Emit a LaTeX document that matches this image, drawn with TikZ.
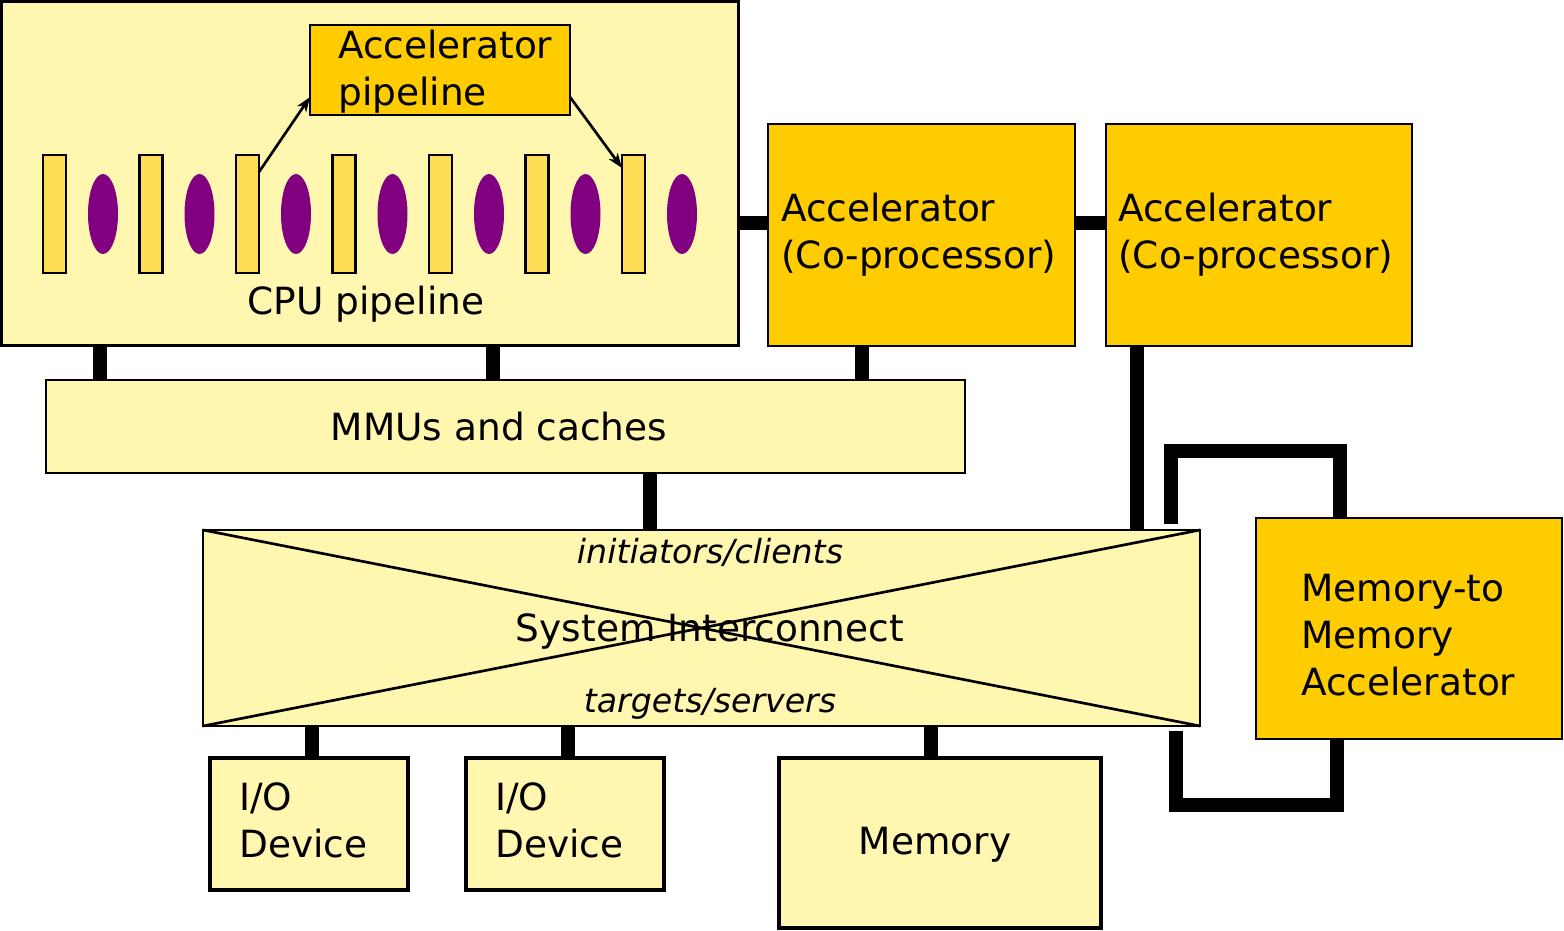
\documentclass[tikz,border=0pt]{standalone}
\usepackage{fontspec}
\setmainfont{DejaVu Sans}
\usetikzlibrary{calc,arrows.meta,shapes.geometric}
\definecolor{lightyel}{HTML}{FFF6B0}
\definecolor{gold}{HTML}{FFCC00}
\definecolor{stagecol}{HTML}{FFDD55}
\definecolor{latchcol}{HTML}{800080}
\tikzset{
  box/.style={draw=black, line width=2pt, inner sep=0pt, outer sep=0pt, anchor=north west},
  lbox/.style={box, fill=lightyel},
  gbox/.style={box, fill=gold},
  iobox/.style={box, fill=lightyel, line width=3.2pt},
  stagebox/.style={box, fill=stagecol, line width=2.2pt, minimum width=17.25pt, minimum height=88.5pt},
  latch/.style={ellipse, fill=latchcol, minimum width=22.5pt, minimum height=60pt, inner sep=0pt},
  txt/.style={font=\fontsize{28.1pt}{35.2pt}\selectfont, inner sep=0pt},
  itxt/.style={font=\fontsize{24.9pt}{30pt}\selectfont\itshape, inner sep=0pt},
  conn/.style={line width=11pt, line cap=butt, line join=miter},
  thinarrow/.style={line width=2pt, -{Stealth[length=11pt,width=8pt,inset=3pt]}}
}
\begin{document}
\begin{tikzpicture}[x=0.75pt,y=-0.75pt]
\useasboundingbox (0,0) rectangle (1564,931);
% CPU
\node[lbox, line width=2.3pt, minimum width=552.75pt, minimum height=258pt] (cpu) at (1.5,1.5) {};
\node[gbox, minimum width=195pt, minimum height=67.5pt] (accp) at (310,25) {};
\node[txt, anchor=base west] (accpt1) at (338,59) {Accelerator};
\node[txt, anchor=base west] (accpt2) at (338,106) {pipeline};
\foreach \i in {0,...,6} {
  \node[stagebox] (r\i) at ({43+96.5*\i},155) {};
  \node[latch] (e\i) at ({103+96.5*\i},214) {};
}
\node[txt, anchor=base] (cput) at (366,314) {CPU pipeline};
\draw[thinarrow] ($(r2.north east)+(0,17)$) -- ($(accp.south west)+(0,-18)$);
\draw[thinarrow] ($(accp.south east)+(0,-18)$) -- ($(r6.north west)+(0,13)$);
% Accelerators
\node[gbox, minimum width=230.25pt, minimum height=166.5pt] (acc1) at (768,124) {};
\node[gbox, minimum width=229.5pt, minimum height=166.5pt] (acc2) at (1106,124) {};
\node[txt, anchor=base west] (a1t1) at (781,221) {Accelerator};
\node[txt, anchor=base west] (a1t2) at (781,268) {(Co-processor)};
\node[txt, anchor=base west] (a2t1) at (1118,221) {Accelerator};
\node[txt, anchor=base west] (a2t2) at (1118,268) {(Co-processor)};
% MMU
\node[lbox, minimum width=689.25pt, minimum height=69.75pt] (mmu) at (46,380) {};
\node[txt, anchor=base] (mmut) at (499,440) {MMUs and caches};
% Interconnect
\node[lbox, minimum width=747.75pt, minimum height=147pt] (ic) at (203,530) {};
\draw[line width=2pt] (ic.north west) -- (ic.south east);
\draw[line width=2pt] (ic.south west) -- (ic.north east);
\node[itxt, anchor=base] (ict1) at (710,563) {initiators/clients};
\node[txt, anchor=base] (ict2) at (710,641) {System Interconnect};
\node[itxt, anchor=base] (ict3) at (710,712) {targets/servers};
% Memory-to-memory
\node[gbox, minimum width=229.5pt, minimum height=165.75pt] (m2m) at (1256,518) {};
\node[txt, anchor=base west] (m2t1) at (1301,601) {Memory-to};
\node[txt, anchor=base west] (m2t2) at (1301,648) {Memory};
\node[txt, anchor=base west] (m2t3) at (1301,695) {Accelerator};
% Devices
\node[iobox, minimum width=148.5pt, minimum height=99pt] (io1) at (210,758) {};
\node[iobox, minimum width=148.5pt, minimum height=99pt] (io2) at (466,758) {};
\node[iobox, minimum width=241.5pt, minimum height=127.5pt] (mem) at (779,758) {};
\node[txt, anchor=base west] (io1t1) at (239,810) {I/O};
\node[txt, anchor=base west] (io1t2) at (239,857) {Device};
\node[txt, anchor=base west] (io2t1) at (495,810) {I/O};
\node[txt, anchor=base west] (io2t2) at (495,857) {Device};
\node[txt, anchor=base] (memt) at (935,854) {Memory};
% Connectors
\draw[conn] (cpu.east |- 0,223) -- (acc1.west |- 0,223);
\draw[conn] (acc1.east |- 0,223) -- (acc2.west |- 0,223);
\draw[conn] (100,0 |- cpu.south) -- (100,0 |- mmu.north);
\draw[conn] (493,0 |- cpu.south) -- (493,0 |- mmu.north);
\draw[conn] (862,0 |- acc1.south) -- (862,0 |- mmu.north);
\draw[conn] (650,0 |- mmu.south) -- (650,0 |- ic.north);
\draw[conn] (1137,0 |- acc2.south) -- (1137,0 |- ic.north);
\draw[conn] (312,0 |- ic.south) -- (312,0 |- io1.north);
\draw[conn] (568,0 |- ic.south) -- (568,0 |- io2.north);
\draw[conn] (931,0 |- ic.south) -- (931,0 |- mem.north);
\coordinate (loopA) at (1171,524);
\coordinate (loopB) at (1176,731);
\draw[conn] (loopA) -- (1171,451) -- (1340,451) -- (1340,0 |- m2m.north);
\draw[conn] (loopB) -- (1176,805) -- (1337,805) -- (1337,0 |- m2m.south);
\end{tikzpicture}
\end{document}
